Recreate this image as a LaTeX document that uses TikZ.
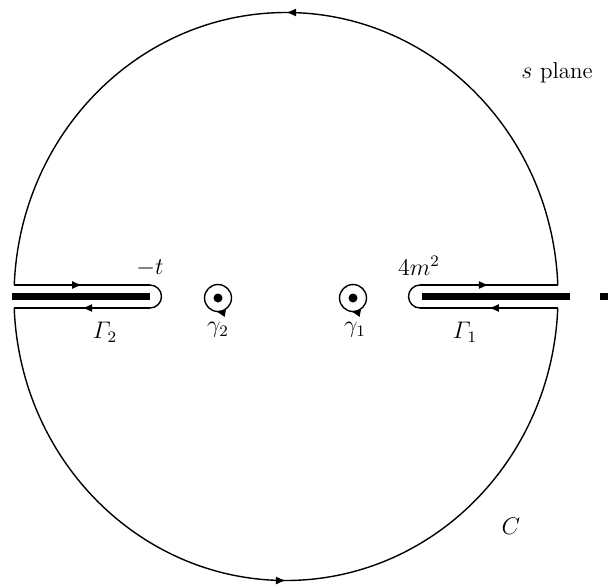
\documentclass[tikz,border=0pt]{standalone}
\usepackage{amsmath}
\usetikzlibrary{arrows.meta,decorations.markings,calc}
\begin{document}
\begin{tikzpicture}[x=0.5pt,y=0.5pt,
  contour/.style={line width=0.7pt},
  midarrow/.style={postaction={decorate},decoration={markings,
      mark=at position #1 with {\arrow{Latex[length=5pt,width=4pt]}}}},
  cutbar/.style={line width=3.6pt,line cap=butt},
  lbl/.style={font=\fontsize{11.5}{14}\selectfont,inner sep=0pt}]
\useasboundingbox (0,0) rectangle (608,585);
% big contour C
\coordinate (c) at (286,288.5);
\coordinate (ur) at (557.8,300);
\coordinate (ul) at (14.2,300);
\coordinate (ll) at (14.2,277);
\coordinate (lr) at (557.8,277);
\coordinate (lu1) at (150,300);
\coordinate (lu2) at (150,277);
\coordinate (ru1) at (420,277);
\coordinate (ru2) at (420,300);
\draw[contour,midarrow=0.5] (ur) arc[start angle=2.32,end angle=177.68,x radius=272,y radius=284];
\draw[contour,midarrow=0.5] (ll) arc[start angle=182.32,end angle=357.68,x radius=272,y radius=284];
% left cut contour
\draw[contour,midarrow=0.5] (ul) -- (lu1);
\draw[contour] (lu1) arc[start angle=90,end angle=-90,radius=11.5];
\draw[contour,midarrow=0.5] (lu2) -- (ll);
% right cut contour
\draw[contour,midarrow=0.5] (lr) -- (ru1);
\draw[contour] (ru1) arc[start angle=270,end angle=90,radius=11.5];
\draw[contour,midarrow=0.5] (ru2) -- (ur);
% cuts
\coordinate (lb1) at (12,288.5);
\coordinate (lb2) at (150,288.5);
\coordinate (rb1) at (422,288.5);
\coordinate (rb2) at (570,288.5);
\coordinate (rb3) at (600,288.5);
\coordinate (rb4) at (608,288.5);
\draw[cutbar] (lb1) -- (lb2);
\draw[cutbar] (rb1) -- (rb2);
\draw[cutbar] (rb3) -- (rb4);
% small circles
\coordinate (g2) at (218,287);
\coordinate (g1) at (353,287);
\foreach \p in {g2,g1}{
  \draw[contour,midarrow=0.53] ($(\p)+(0,13.5)$) arc[start angle=90,end angle=-270,radius=13.5];
  \fill (\p) circle[radius=4.5];
}
% labels
\node[lbl] (lt) at (150,317) {$-t$};
\node[lbl] (l4) at (419,319) {$4m^2$};
\node[lbl] (lG2) at (105,253) {$\varGamma_2$};
\node[lbl] (lG1) at (465,253) {$\varGamma_1$};
\node[lbl] (lg2) at (218,255) {$\gamma_2$};
\node[lbl] (lg1) at (355,255) {$\gamma_1$};
\node[lbl] (ls) at (557,512) {$s$ plane};
\node[lbl] (lC) at (511,59) {$C$};
\end{tikzpicture}
\end{document}
